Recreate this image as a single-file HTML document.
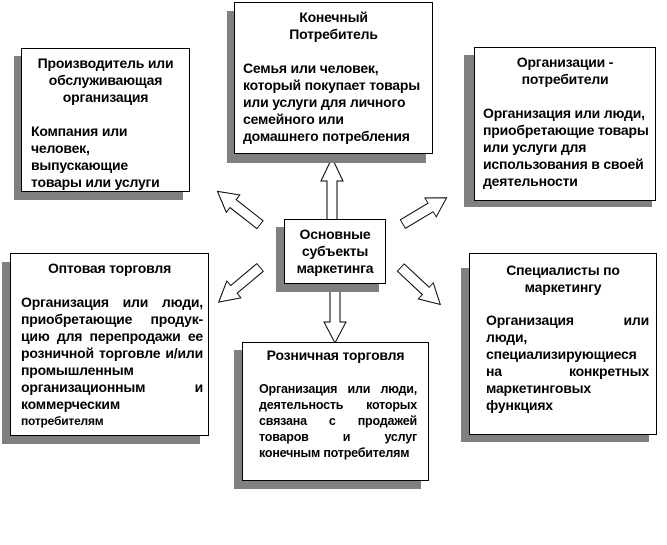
<!DOCTYPE html>
<html><head><meta charset="utf-8"><style>
body{margin:0;width:667px;height:545px;background:#fff;position:relative;overflow:hidden;font-family:"Liberation Sans",Arial,sans-serif;}
.sh{position:absolute;background:#808080;}
.b{position:absolute;background:#fff;border:1px solid #000;box-sizing:border-box;font-weight:bold;font-size:14px;letter-spacing:-0.2px;line-height:17px;color:#000;white-space:nowrap;}
.t{text-align:center;}
.p{position:absolute;}
.jl{text-align:justify;text-align-last:justify;white-space:normal;}
</style></head><body>
<svg width="667" height="545" style="position:absolute;left:0;top:0">
<defs><polygon id="ar" points="0,-5 -38,-5 -38,5 0,5 0,11 22,0 0,-11" fill="#fff" stroke="#000" stroke-width="1"/></defs>
<use href="#ar" transform="translate(263,227) rotate(218) translate(38,0) scale(0.9,1)"/>
<use href="#ar" transform="translate(398,227) rotate(-31) translate(38,0) scale(0.85,1)"/>
<use href="#ar" transform="translate(263,265) rotate(140) translate(38,0) scale(0.9,1)"/>
<use href="#ar" transform="translate(398,265) rotate(43) translate(38,0) scale(0.9,1)"/>
<use href="#ar" transform="translate(332,219) rotate(-90) translate(38,0) scale(1.05,1)"/>
<use href="#ar" transform="translate(335,284) rotate(90) translate(38,0) scale(0.95,1)"/>
</svg>

<div class="sh" style="left:14px;top:56px;width:169px;height:144px"></div>
<div class="b" style="left:21px;top:48px;width:169px;height:144px">
<div class="p t" style="left:0;top:6px;width:167px">Производитель или<br>обслуживающая<br>организация</div>
<div class="p" style="left:9px;top:74px;width:150px">Компания или<br>человек,<br>выпускающие<br>товары или услуги</div>
</div>

<div class="sh" style="left:227px;top:11px;width:199px;height:152px"></div>
<div class="b" style="left:234px;top:2px;width:199px;height:152px">
<div class="p t" style="left:0;top:6px;width:197px">Конечный<br>Потребитель</div>
<div class="p" style="left:8px;top:57px;width:187px">Семья или человек,<br>который покупает товары<br>или услуги для личного<br>семейного или<br>домашнего потребления</div>
</div>

<div class="sh" style="left:464px;top:55px;width:188px;height:152px"></div>
<div class="b" style="left:474px;top:47px;width:182px;height:154px">
<div class="p t" style="left:0;top:6px;width:180px">Организации -<br>потребители</div>
<div class="p" style="left:8px;top:57px;width:172px">Организация или люди,<br>приобретающие товары<br>или услуги для<br>использования в своей<br>деятельности</div>
</div>

<div class="sh" style="left:276px;top:227px;width:103px;height:65px"></div>
<div class="b t" style="left:284px;top:219px;width:102px;height:65px;padding-top:6px">Основные<br>субъекты<br>маркетинга</div>

<div class="sh" style="left:2px;top:262px;width:198px;height:182px"></div>
<div class="b" style="left:10px;top:253px;width:199px;height:183px">
<div class="p t" style="left:0;top:6px;width:197px">Оптовая торговля</div>
<div class="p" style="left:10px;top:40px;width:182px">
<div class="jl">Организация или люди,</div>
<div class="jl">приобретающие продук-</div>
<div class="jl">цию для перепродажи ее</div>
<div class="jl">розничной торговле и/или</div>
<div>промышленным</div>
<div class="jl">организационным и</div>
<div>коммерческим</div>
<div style="font-size:12px">потребителям</div>
</div>
</div>

<div class="sh" style="left:234px;top:350px;width:187px;height:139px"></div>
<div class="b" style="left:242px;top:342px;width:187px;height:139px">
<div class="p t" style="left:0;top:4px;width:185px">Розничная торговля</div>
<div class="p" style="left:16px;top:38px;width:158px;font-size:12.5px;line-height:16px">
<div class="jl">Организация или люди,</div>
<div class="jl">деятельность которых</div>
<div class="jl">связана с продажей</div>
<div class="jl">товаров и услуг</div>
<div>конечным потребителям</div>
</div>
</div>

<div class="sh" style="left:461px;top:268px;width:188px;height:174px"></div>
<div class="b" style="left:469px;top:253px;width:188px;height:182px">
<div class="p t" style="left:0;top:8px;width:186px">Специалисты по<br>маркетингу</div>
<div class="p" style="left:16px;top:58px;width:163px">
<div class="jl">Организация или</div>
<div>люди,</div>
<div>специализирующиеся</div>
<div class="jl">на конкретных</div>
<div>маркетинговых</div>
<div>функциях</div>
</div>
</div>
</body></html>
